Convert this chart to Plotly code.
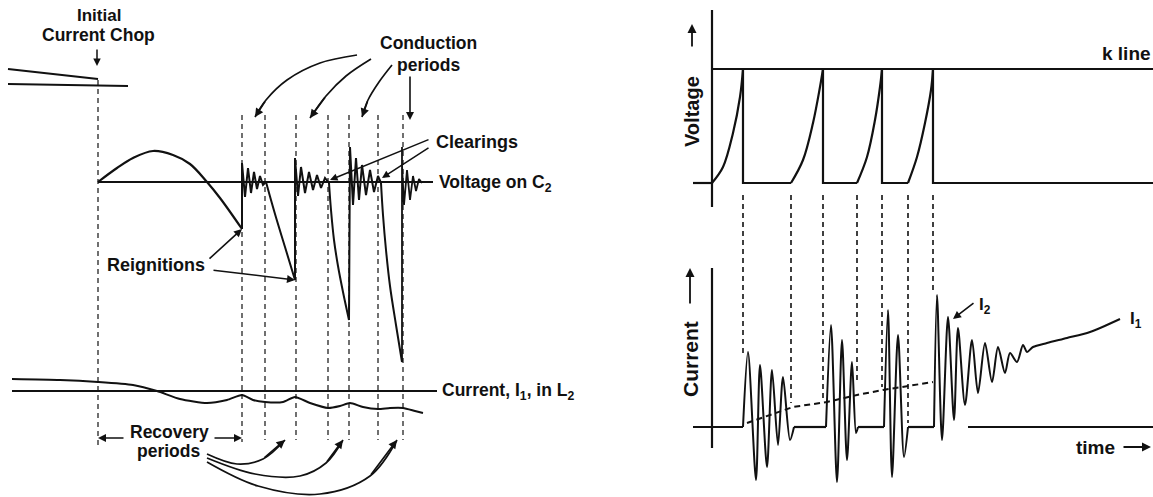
import plotly.graph_objects as go

W, H = 1153, 497
INK = "#111111"

# ======================= LEFT DIAGRAM =======================
# initial (chopped) current traces, top left
chop_upper_x = [8, 98]
chop_upper_y = [69, 79]
chop_lower_x = [8, 128]
chop_lower_y = [84, 86]

# voltage on C2 : zero line
vc2_base_x = [98, 433]
vc2_base_y = [182, 182]

# voltage on C2 : smooth parts (recovery periods)
vc2_arch_x = [98, 117, 133, 153, 173, 190, 207, 220, 242]
vc2_arch_y = [182, 168, 158, 151, 155, 164, 182, 198, 229]
vc2_fall1_x = [266, 275, 285, 295]
vc2_fall1_y = [182, 214, 247, 280]
vc2_fall2_x = [329, 331, 334, 338, 343, 349]
vc2_fall2_y = [183, 210, 240, 266, 292, 320]
vc2_fall3_x = [381, 383, 386, 390, 396, 402]
vc2_fall3_y = [183, 215, 250, 286, 325, 362]

# voltage on C2 : reignition jumps + ringing (conduction periods)
vc2_ring1_x = [242, 242, 245, 248, 251, 254, 257, 260, 263, 266]
vc2_ring1_y = [229, 163, 197, 168, 193, 172, 189, 176, 185, 182]
vc2_ring2_x = [295, 295, 298, 301, 305, 309, 313, 317, 321, 325, 329]
vc2_ring2_y = [280, 158, 196, 167, 193, 172, 190, 175, 188, 178, 183]
vc2_ring3_x = [349, 350, 353, 356, 359, 362, 366, 370, 374, 378, 381]
vc2_ring3_y = [320, 147, 205, 158, 200, 165, 195, 170, 192, 176, 183]
vc2_ring4_x = [402, 402, 402, 404, 407, 410, 413, 416, 419, 422]
vc2_ring4_y = [362, 147, 165, 205, 170, 200, 176, 191, 179, 183]

# current I1 in L2
i1_zero_x = [12, 437]
i1_zero_y = [391, 391]
i1_x = [12, 60, 98, 133, 157, 180, 207, 227, 242, 253, 265, 283, 295,
        310, 328, 340, 350, 363, 378, 390, 403, 415, 423]
i1_y = [379, 380, 382, 385, 391, 399, 403, 400, 395, 400, 402, 402, 397,
        403, 408, 406, 403, 407, 409, 408, 408, 411, 413]

# event markers (dashed verticals)
left_mark_x = [98, 242, 265, 296, 328, 349, 378, 403]
left_mark_top = [80, 115, 115, 115, 115, 115, 115, 115]
left_mark_bot = [448, 442, 440, 440, 440, 440, 440, 440]

# ======================= RIGHT DIAGRAM =======================
v_axis_x = [712, 712]
v_axis_y = [10, 207]
k_line_x = [712, 1153]
k_line_y = [69, 69]

v_rise1_x = [712, 723, 733, 740, 743]
v_rise1_y = [183, 167, 133, 97, 69]
v_rise2_x = [791, 803, 813, 820, 823]
v_rise2_y = [183, 160, 123, 87, 69]
v_rise3_x = [857, 867, 875, 880, 882]
v_rise3_y = [183, 157, 120, 87, 69]
v_rise4_x = [908, 917, 925, 931, 933]
v_rise4_y = [183, 157, 123, 90, 69]

v_flat_x = [693, 712, None, 743, 743, 791, None, 823, 823, 857, None,
            882, 882, 908, None, 933, 933, 1153]
v_flat_y = [183, 183, None, 69, 183, 183, None, 69, 183, 183, None,
            69, 183, 183, None, 69, 183, 183]

c_axis_x = [712, 712]
c_axis_y = [268, 448]
c_base_x = [693, 743, None, 794, 826, None, 858, 884, None, 908, 934,
            None, 968, 1153]
c_base_y = [427, 427, None, 427, 427, None, 427, 427, None, 427, 427,
            None, 427, 427]

c_burst1_x = [743, 748, 756, 760, 767, 772, 778, 783, 790, 794]
c_burst1_y = [427, 352, 480, 365, 467, 370, 445, 377, 440, 427]
c_burst2_x = [826, 831, 837, 842, 847, 852, 856, 858]
c_burst2_y = [427, 325, 482, 340, 460, 362, 433, 427]
c_burst3_x = [884, 888, 892, 898, 904, 908]
c_burst3_y = [427, 310, 477, 335, 457, 427]
c_burst4_x = [934, 937, 942, 948, 954, 958, 965, 972, 978, 985, 992, 998,
              1005, 1010, 1017, 1023, 1027, 1033, 1047, 1067, 1090, 1120]
c_burst4_y = [427, 295, 440, 317, 420, 328, 405, 340, 393, 343, 382, 347,
              373, 353, 362, 345, 352, 347, 343, 338, 332, 319]

i1_mean_x = [747, 793, 827, 857, 883, 933]
i1_mean_y = [423, 407, 402, 395, 390, 382]

right_mark_x = [743, 791, 823, 857, 882, 908, 933]
right_mark_top = [195, 195, 195, 195, 195, 195, 195]
right_mark_bot = [357, 403, 402, 380, 387, 423, 293]

# curved pointer arrows (label -> target)
cond_arrows = [
    ([357, 320, 287, 266, 255], [55, 63, 80, 100, 117]),
    ([371, 346, 326, 310], [59, 76, 96, 118]),
    ([392, 379, 368, 362], [65, 82, 100, 117]),
]
recov_arrows = [
    ([207, 237, 263, 285], [454, 464, 459, 440]),
    ([207, 255, 300, 326, 343], [458, 474, 476, 463, 440]),
    ([207, 258, 320, 370, 397], [462, 486, 494, 476, 440]),
]

fig = go.Figure()


def add(xs, ys, width=2.0, shape="linear", dash="solid", smooth=1.0):
    line = dict(color=INK, width=width, dash=dash, shape=shape)
    if shape == "spline":
        line["smoothing"] = smooth
    fig.add_trace(go.Scatter(x=xs, y=ys, mode="lines", line=line,
                             hoverinfo="skip", showlegend=False,
                             connectgaps=False))


DASH = "5px,4px"

# left dashed markers
for x, t, b in zip(left_mark_x, left_mark_top, left_mark_bot):
    add([x, x], [t, b], width=1.2, dash=DASH)
# right dashed markers
for x, t, b in zip(right_mark_x, right_mark_top, right_mark_bot):
    add([x, x], [t, b], width=1.6, dash=DASH)

# left traces
add(chop_upper_x, chop_upper_y, 1.8)
add(chop_lower_x, chop_lower_y, 1.8)
add(vc2_base_x, vc2_base_y, 1.8)
add(vc2_arch_x, vc2_arch_y, 2.2, "spline")
add(vc2_fall1_x, vc2_fall1_y, 2.0, "spline")
add(vc2_fall2_x, vc2_fall2_y, 2.0, "spline")
add(vc2_fall3_x, vc2_fall3_y, 2.0, "spline")
add(vc2_ring1_x, vc2_ring1_y, 2.0)
add(vc2_ring2_x, vc2_ring2_y, 2.0)
add(vc2_ring3_x, vc2_ring3_y, 2.0)
add(vc2_ring4_x, vc2_ring4_y, 1.8)
add(i1_zero_x, i1_zero_y, 2.0)
add(i1_x, i1_y, 2.0, "spline", smooth=0.6)

# right traces
add(v_axis_x, v_axis_y, 2.2)
add(k_line_x, k_line_y, 2.2)
add(v_flat_x, v_flat_y, 2.2)
for xs, ys in [(v_rise1_x, v_rise1_y), (v_rise2_x, v_rise2_y),
               (v_rise3_x, v_rise3_y), (v_rise4_x, v_rise4_y)]:
    add(xs, ys, 2.2, "spline")
add(c_axis_x, c_axis_y, 2.2)
add(c_base_x, c_base_y, 2.2)
add(c_burst1_x, c_burst1_y, 2.0, "spline", smooth=0.8)
add(c_burst2_x, c_burst2_y, 2.0, "spline", smooth=0.8)
add(c_burst3_x, c_burst3_y, 2.0, "spline", smooth=0.8)
add(c_burst4_x, c_burst4_y, 2.0, "spline", smooth=0.8)
add(i1_mean_x, i1_mean_y, 2.0, dash="6px,4px")

annotations = []


def arrow(x0, y0, x1, y1, width=1.6, head=2, size=1.0):
    annotations.append(dict(x=x1, y=y1, ax=x0, ay=y0, xref="x", yref="y",
                            axref="x", ayref="y", text="", showarrow=True,
                            arrowhead=head, arrowsize=size, arrowwidth=width,
                            arrowcolor=INK, standoff=0, startstandoff=0))


def label(x, y, text, size=17.5, angle=0, xanchor="center"):
    annotations.append(dict(x=x, y=y, xref="x", yref="y", text=text,
                            showarrow=False, textangle=angle,
                            xanchor=xanchor, yanchor="middle",
                            font=dict(family="Liberation Sans, Arial",
                                      size=size, color=INK)))


# curved arrows: body as spline, head as annotation on last segment
for xs, ys in cond_arrows + recov_arrows:
    add(xs, ys, 1.7, "spline")
    arrow(xs[-2], ys[-2], xs[-1], ys[-1], width=1.7)

# straight arrows
arrow(410, 75, 410, 120)                 # conduction periods, last
arrow(97, 48, 97, 66, width=1.5)         # initial current chop
arrow(208, 260, 242, 229)                # reignition 1
arrow(212, 270, 295, 280)                # reignition 2
arrow(430, 139, 330, 180, width=1.5)     # clearing 1
arrow(430, 147, 382, 178, width=1.5)     # clearing 2
arrow(125, 438, 98, 438, width=1.6)      # recovery period span
arrow(213, 438, 242, 438, width=1.6)
arrow(975, 302, 953, 319, width=1.6)     # I2 pointer
arrow(692, 48, 692, 24, width=1.8)       # voltage axis arrow
arrow(690, 305, 690, 268, width=1.8)     # current axis arrow
arrow(1122, 447, 1151, 447, width=1.8)   # time arrow

# text
label(99, 15, "<b>Initial</b>", 17)
label(98, 35, "<b>Current Chop</b>", 17.5)
label(428, 43, "<b>Conduction</b>", 17.5)
label(428, 65, "<b>periods</b>", 17.5)
label(434, 142, "<b>Clearings</b>", 18, xanchor="left")
label(437, 183, "<b>Voltage on C<sub>2</sub></b>", 17.5, xanchor="left")
label(156, 265, "<b>Reignitions</b>", 18)
label(440, 391, "<b>Current, I<sub>1</sub>, in L<sub>2</sub></b>", 17.5,
      xanchor="left")
label(169, 432, "<b>Recovery</b>", 17.5)
label(168, 451, "<b>periods</b>", 17.5)

label(1126, 53, "<b>k line</b>", 19)
label(692, 112, "<b>Voltage</b>", 20, angle=-90)
label(690, 359, "<b>Current</b>", 21, angle=-90)
label(1095, 447, "<b>time</b>", 19)
label(985, 306, "<b>I<sub>2</sub></b>", 17)
label(1136, 320, "<b>I<sub>1</sub></b>", 17)

fig.update_layout(
    width=W, height=H,
    margin=dict(l=0, r=0, t=0, b=0),
    paper_bgcolor="white", plot_bgcolor="white",
    xaxis=dict(range=[0, W], visible=False, fixedrange=True),
    yaxis=dict(range=[H, 0], visible=False, fixedrange=True),
    annotations=annotations,
    showlegend=False,
)

fig.write_html("out.html", config={"displayModeBar": False})
